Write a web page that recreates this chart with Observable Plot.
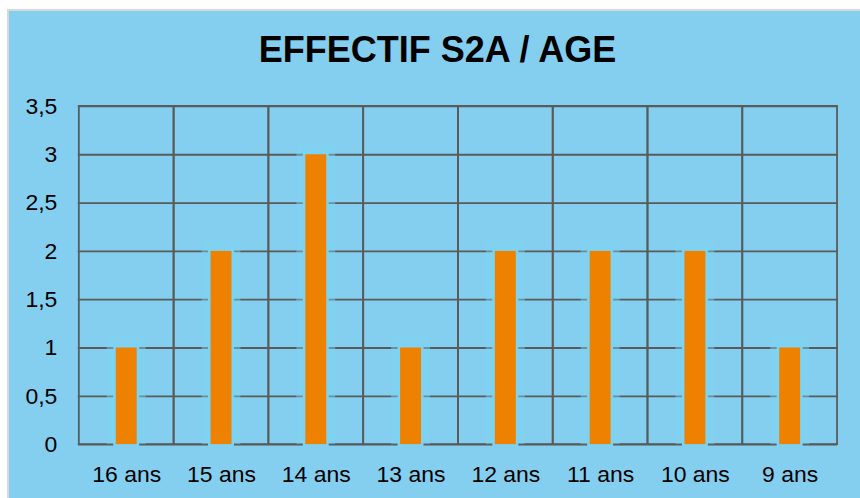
<!DOCTYPE html>
<html>
<head>
<meta charset="utf-8">
<script src="https://cdn.jsdelivr.net/npm/d3@7"></script>
<script src="https://cdn.jsdelivr.net/npm/@observablehq/plot@0.6"></script>
<style>
  html, body { margin: 0; padding: 0; background: #ffffff; }
  #chart {
    position: absolute; left: 7px; top: 9px; width: 853px; height: 489px;
    background: #84CFEF; border-top: 2px solid #d8d8d8; border-left: 2px solid #d8d8d8;
    box-sizing: border-box; overflow: hidden;
  }
  #title {
    height: 68px; box-sizing: border-box; padding-top: 21px; padding-left: 6px;
    text-align: center; font: bold 36px "Liberation Sans", Arial, sans-serif; line-height: 36px; color: #000;
  }
  #plot svg { display: block; margin-left: -2px; }
</style>
</head>
<body>
<div id="chart">
  <div id="title">EFFECTIF S2A / AGE</div>
  <div id="plot"></div>
</div>
<script>
const ages = ["16 ans", "15 ans", "14 ans", "13 ans", "12 ans", "11 ans", "10 ans", "9 ans"];
const effectifs = [1, 2, 3, 1, 2, 2, 2, 1];
const yTicks = [0, 0.5, 1, 1.5, 2, 2.5, 3, 3.5];

const data = ages.map((a, i) => ({age: a, n: effectifs[i]}));
const yMax = yTicks[yTicks.length - 1];
const grid = "#5a5a5a";

const chart = Plot.plot({
  width: 853,
  height: 419,
  marginTop: 27,
  marginBottom: 53,
  marginLeft: 71,
  marginRight: 21,
  style: {background: "transparent", fontSize: "23px", fontFamily: "'Liberation Sans', Arial, sans-serif", color: "#000", overflow: "visible"},
  x: {domain: ages, padding: 0, label: null, tickSize: 0, tickPadding: 21},
  y: {domain: [0, yMax], ticks: yTicks, label: null, tickSize: 0, tickPadding: 21,
      tickFormat: d => String(d).replace(".", ",")},
  marks: [
    Plot.barY(ages, {x: d => d, y1: 0, y2: yMax, fill: "none", stroke: grid, strokeWidth: 1.8}),
    Plot.ruleY(yTicks, {stroke: grid, strokeWidth: 1.8}),
    Plot.barY(data, {x: "age", y: "n", fill: "#7fd3f2", fillOpacity: 0.45, insetLeft: 28, insetRight: 28, insetTop: -11, insetBottom: 0}),
    Plot.barY(data, {x: "age", y: "n", fill: "#7bd4f3", insetLeft: 34.5, insetRight: 34.5, insetTop: -3, insetBottom: -2}),
    Plot.barY(data, {x: "age", y: "n", fill: "#ee8100", insetLeft: 37, insetRight: 37})
  ]
});
document.getElementById("plot").appendChild(chart);
</script>
</body>
</html>
